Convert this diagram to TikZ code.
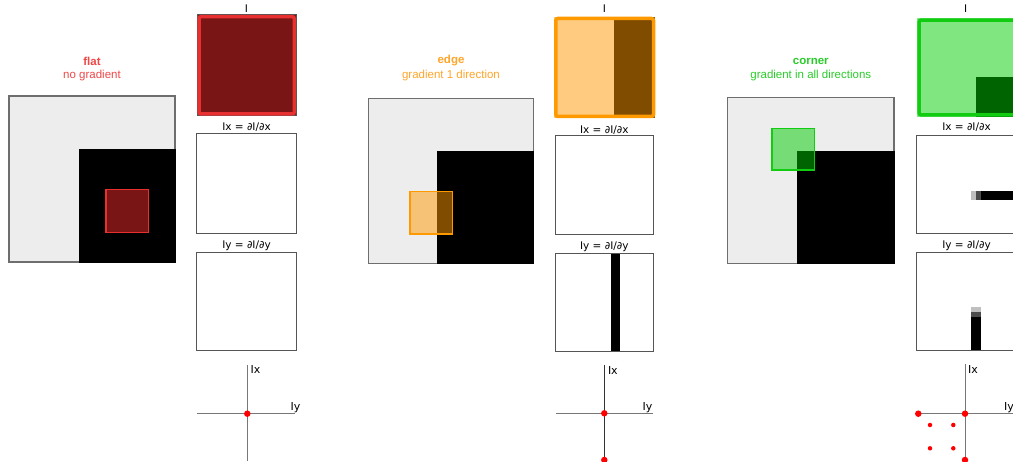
\documentclass[tikz,border=0pt]{standalone}
\usepackage{fontspec}
\setmainfont{DejaVu Sans}
\newfontfamily\arialf{Liberation Sans}
\definecolor{imgbg}{HTML}{EDEDED}
\definecolor{frm}{HTML}{555555}
\definecolor{axc}{HTML}{777777}
\definecolor{redB}{HTML}{E83030}
\definecolor{redD}{HTML}{7A1515}
\definecolor{redT}{HTML}{F04848}
\definecolor{orB}{HTML}{FF9900}
\definecolor{orL}{HTML}{F6C376}
\definecolor{orP}{HTML}{FECB80}
\definecolor{orD}{HTML}{7F4C00}
\definecolor{orT}{HTML}{FFA52A}
\definecolor{grB}{HTML}{11CC11}
\definecolor{grL}{HTML}{76DC76}
\definecolor{grP}{HTML}{80E680}
\definecolor{grD}{HTML}{006400}
\definecolor{grT}{HTML}{2ACC2A}
\tikzset{
  frame/.style={draw=frm, line width=1pt},
  bigimg/.style={draw=frm!85, line width=1.2pt, fill=imgbg},
  axisline/.style={draw=axc, line width=1pt},
  lbl/.style={font=\fontsize{10.5}{12}\selectfont, inner sep=0pt},
  axlbl/.style={font=\fontsize{11}{13}\selectfont, inner sep=0pt, anchor=west},
  ttl/.style={font=\arialf\fontsize{11.5}{13}\selectfont, inner sep=0pt},
  bigdot/.style={circle, fill=red, inner sep=0pt, minimum size=6.5pt},
  smalldot/.style={circle, fill=red, inner sep=0pt, minimum size=4.5pt},
  panelborder/.style={line width=3.5pt, rounded corners=2pt},
}
\begin{document}
\begin{tikzpicture}[x=1pt,y=-1pt]
\useasboundingbox (0,0) rectangle (1013,462);
\fill[white] (0,0) rectangle (1013,462);

% ================= FLAT =================
\node[ttl, text=redT] (t1a) at (92,61) {\textbf{flat}};
\node[ttl, text=redT] (t1b) at (92,75.5) {no gradient};
% main image
\path[bigimg] (9,96) rectangle (175,262);
\fill[black] (79,149.5) rectangle (175.6,262.6);
\draw[bigimg, fill=none] (9,96) -- (175,96) -- (175,149.5);
\draw[bigimg, fill=none] (79,262) -- (9,262) -- (9,96);
\fill[redD] (106,189.5) rectangle (148.3,232.3);
\draw[redB, line width=1.2pt] (106,189.5) rectangle (148.3,232.3);
% I panel
\node[lbl] (i1) at (246.5,9) {I};
\draw[frame, fill=redD] (197.3,15) rectangle (296,115.7);
\draw[redB, panelborder] (199,16.7) rectangle (294.3,114);
% Ix panel
\node[lbl] (ix1) at (246.5,127.3) {Ix = ∂I/∂x};
\draw[frame, fill=white] (196.7,134) rectangle (296,233.3);
% Iy panel
\node[lbl] (iy1) at (246.5,246) {Iy = ∂I/∂y};
\draw[frame, fill=white] (196.7,252.3) rectangle (296,351);
% scatter
\coordinate (o1) at (247.3,413.7);
\draw[axisline] (247.3,365) -- (247.3,461);
\draw[axisline] (197.3,413.7) -- (295,413.7);
\node[axlbl] (sx1) at (250.5,369) {Ix};
\node[axlbl] (sy1) at (290.5,407.5) {Iy};
\node[bigdot] (d1) at (o1) {};

% ================= EDGE =================
\node[ttl, text=orT] (t2a) at (451,61) {\textbf{edge}};
\node[ttl, text=orT] (t2b) at (451,75.5) {gradient 1 direction};
\path[bigimg] (368.3,98.3) rectangle (533.3,263.3);
\fill[black] (436.7,151) rectangle (533.9,263.9);
\draw[bigimg, fill=none] (368.3,98.3) -- (533.3,98.3) -- (533.3,151);
\draw[bigimg, fill=none] (436.7,263.3) -- (368.3,263.3) -- (368.3,98.3);
\fill[orL] (410,191.7) rectangle (436.7,234);
\fill[orD] (436.7,191.7) rectangle (452.3,234);
\draw[orB, line width=1.2pt] (410,191.7) rectangle (452.3,234);
% I panel
\node[lbl] (i2) at (604.3,8.5) {I};
\fill[orP] (554,16.7) rectangle (614,118.3);
\fill[orD] (614,16.7) rectangle (655.3,118.3);
\draw[orB, panelborder] (555.8,18.5) rectangle (653.5,116.5);
% Ix panel
\node[lbl] (ix2) at (604.3,130) {Ix = ∂I/∂x};
\draw[frame, fill=white] (555,136) rectangle (653.3,235);
% Iy panel
\node[lbl] (iy2) at (604.3,246.5) {Iy = ∂I/∂y};
\draw[frame, fill=white] (555.7,254) rectangle (653.3,351.7);
\fill[black] (610.7,254.5) rectangle (620,351.2);
% scatter
\coordinate (o2) at (604.3,413.3);
\draw[axisline] (556,413.3) -- (652.7,413.3);
\draw[axisline, draw=black!80] (604.3,365) -- (604.3,462);
\node[axlbl] (sx2) at (607.8,370) {Ix};
\node[axlbl] (sy2) at (642.5,407.5) {Iy};
\node[bigdot] (d2a) at (o2) {};
\node[bigdot] (d2b) at (604.3,460) {};

% ================= CORNER =================
\node[ttl, text=grT] (t3a) at (810.8,61) {\textbf{corner}};
\node[ttl, text=grT] (t3b) at (810.8,75.5) {gradient in all directions};
\path[bigimg] (727.7,97.7) rectangle (894,263.7);
\fill[black] (797,151.3) rectangle (894.6,264.3);
\draw[bigimg, fill=none] (727.7,97.7) -- (894,97.7) -- (894,151.3);
\draw[bigimg, fill=none] (797,263.7) -- (727.7,263.7) -- (727.7,97.7);
\fill[grL] (772,128.3) rectangle (814.3,170);
\fill[grD] (797,151.3) rectangle (814.3,170);
\draw[grB, line width=1.2pt] (772,128.3) rectangle (814.3,170);
% I panel
\node[lbl] (i3) at (965.7,8.5) {I};
\fill[grP] (917.3,18.3) rectangle (1017,116.7);
\fill[grD] (975.7,76.7) rectangle (1017,116.7);
\draw[grB, panelborder] (919.1,20.1) rectangle (1015.2,114.9);
% Ix panel
\node[lbl] (ix3) at (966.5,126.7) {Ix = ∂I/∂x};
\draw[frame, fill=white] (916,135.7) rectangle (1016,233.3);
\fill[black!25] (971,191) rectangle (976,200);
\fill[black!70] (976,191) rectangle (981,200);
\fill[black] (981,191) rectangle (1013,200);
% Iy panel
\node[lbl] (iy3) at (966.5,246) {Iy = ∂I/∂y};
\draw[frame, fill=white] (916,252.3) rectangle (1016,350.7);
\fill[black!25] (971,307.3) rectangle (980.7,312);
\fill[black!70] (971,312) rectangle (980.7,316.7);
\fill[black] (971,316.7) rectangle (980.7,350.3);
% scatter
\coordinate (o3) at (965,413.7);
\draw[axisline] (965,364.3) -- (965,462);
\draw[axisline] (917.3,413.7) -- (1013,413.7);
\node[axlbl] (sx3) at (968,369) {Ix};
\node[axlbl] (sy3) at (1004,407.5) {Iy};
\node[bigdot] (d3a) at (o3) {};
\node[bigdot] (d3b) at (918.3,413.7) {};
\node[bigdot] (d3c) at (965,460) {};
\node[smalldot] (d3d) at (930,425) {};
\node[smalldot] (d3e) at (953.3,425) {};
\node[smalldot] (d3f) at (930,448.3) {};
\node[smalldot] (d3g) at (953.3,448.3) {};
\end{tikzpicture}
\end{document}
